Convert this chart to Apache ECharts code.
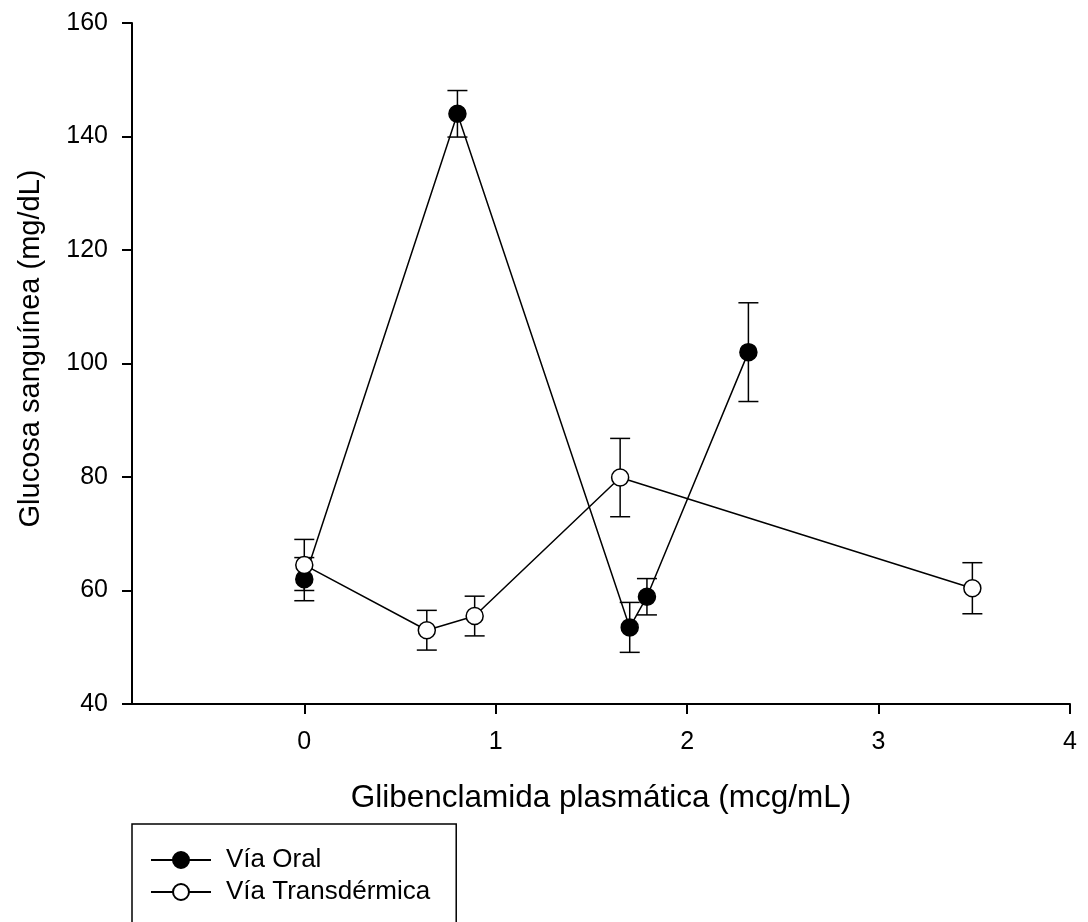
<!DOCTYPE html>
<html>
<head>
<meta charset="utf-8">
<script src="https://cdn.jsdelivr.net/npm/echarts@6/dist/echarts.min.js"></script>
<style>
  html, body { margin: 0; padding: 0; background: #fff; }
  #chart { width: 1088px; height: 922px; }
</style>
</head>
<body>
<div id="chart"></div>
<script>
// datos
var oralX = [0, 0.80, 1.70, 1.79, 2.32];
var oralY = [62.0, 144.0, 53.5, 58.9, 102.0];
var oralErr = [3.8, 4.1, 4.4, 3.2, 8.7];

var transX = [0, 0.64, 0.89, 1.65, 3.49];
var transY = [64.5, 53.0, 55.5, 79.9, 60.4];
var transErr = [4.5, 3.5, 3.5, 6.9, 4.5];

var xTicks = [0, 1, 2, 3, 4];

var FONT = "'Liberation Sans', Arial, sans-serif";

function pairs(xs, ys) {
   var out = [];
   for (var i = 0; i < xs.length; i++) out.push([xs[i], ys[i]]);
   return out;
}

function errData(xs, ys, es) {
   var out = [];
   for (var i = 0; i < xs.length; i++) out.push([xs[i], ys[i] - es[i], ys[i] + es[i]]);
   return out;
}

// barras de error con tapas
function renderErr(params, api) {
   var x = api.value(0);
   var top = api.coord([x, api.value(2)]);
   var bot = api.coord([x, api.value(1)]);
   var w = 10;
   var st = { stroke: '#000', lineWidth: 1.5 };
   return {
      type: 'group',
      children: [
         { type: 'line', shape: { x1: top[0], y1: top[1], x2: bot[0], y2: bot[1] }, style: st },
         { type: 'line', shape: { x1: top[0] - w, y1: top[1], x2: top[0] + w, y2: top[1] }, style: st },
         { type: 'line', shape: { x1: bot[0] - w, y1: bot[1], x2: bot[0] + w, y2: bot[1] }, style: st }
      ]
   };
}

var chart = echarts.init(document.getElementById('chart'));

var option = {
   animation: false,
   backgroundColor: '#fff',
   textStyle: { fontFamily: FONT, color: '#000' },
   grid: {
      left: 132,
      right: 18,
      top: 23,
      bottom: 218,
      containLabel: false,
      outerBoundsMode: 'none'
   },
   legend: {
      orient: 'vertical',
      left: 132,
      top: 824,
      height: 130,
      padding: [23, 26, 30, 18],
      itemWidth: 60,
      itemHeight: 20,
      itemGap: 6,
      borderColor: '#000',
      borderWidth: 1.5,
      selectedMode: false,
      textStyle: { fontFamily: FONT, fontSize: 26, color: '#000', padding: [0, 0, 0, 10] },
      data: ['Vía Oral', 'Vía Transdérmica']
   },
   xAxis: {
      type: 'value',
      min: -0.9,
      max: 4,
      name: 'Glibenclamida plasmática (mcg/mL)',
      nameLocation: 'middle',
      nameGap: 78,
      nameTextStyle: { fontFamily: FONT, fontSize: 31.5, color: '#000' },
      axisLine: { show: true, onZero: false, lineStyle: { color: '#000', width: 2 } },
      axisTick: { show: true, inside: false, length: 10, customValues: xTicks, lineStyle: { color: '#000', width: 2 } },
      axisLabel: { customValues: xTicks, margin: 26, fontFamily: FONT, fontSize: 25, color: '#000' },
      splitLine: { show: false }
   },
   yAxis: {
      type: 'value',
      min: 40,
      max: 160,
      interval: 20,
      name: 'Glucosa sanguínea (mg/dL)',
      nameLocation: 'middle',
      nameGap: 87,
      nameTextStyle: { fontFamily: FONT, fontSize: 29, color: '#000', padding: [0, 0, 0, 30] },
      axisLine: { show: true, onZero: false, lineStyle: { color: '#000', width: 2 } },
      axisTick: { show: true, inside: false, length: 10, lineStyle: { color: '#000', width: 2 } },
      axisLabel: { margin: 24, fontFamily: FONT, fontSize: 25, color: '#000' },
      splitLine: { show: false }
   },
   series: [
      {
         type: 'custom',
         name: 'err oral',
         renderItem: renderErr,
         data: errData(oralX, oralY, oralErr),
         z: 1,
         silent: true
      },
      {
         type: 'custom',
         name: 'err trans',
         renderItem: renderErr,
         data: errData(transX, transY, transErr),
         z: 1,
         silent: true
      },
      {
         name: 'Vía Oral',
         type: 'line',
         data: pairs(oralX, oralY),
         symbol: 'circle',
         symbolSize: 17,
         lineStyle: { color: '#000', width: 1.5 },
         itemStyle: { color: '#000', borderColor: '#000', borderWidth: 1.5 },
         z: 2
      },
      {
         name: 'Vía Transdérmica',
         type: 'line',
         data: pairs(transX, transY),
         symbol: 'circle',
         symbolSize: 17,
         lineStyle: { color: '#000', width: 1.5 },
         itemStyle: { color: '#fff', borderColor: '#000', borderWidth: 1.5 },
         z: 3
      }
   ]
};

chart.setOption(option);
</script>
</body>
</html>
